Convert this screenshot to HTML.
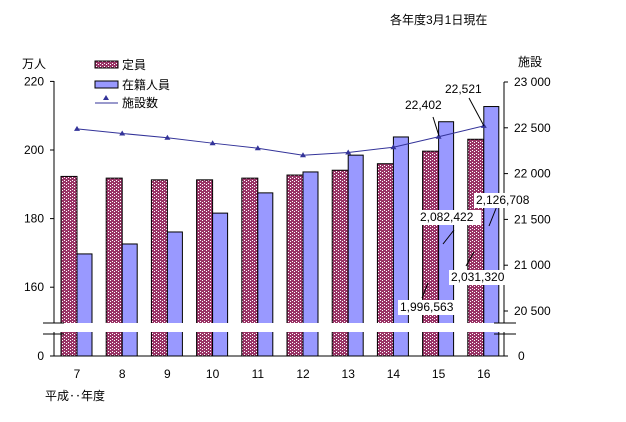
<!DOCTYPE html>
<html><head><meta charset="utf-8"><style>
body{margin:0;background:#fff}
svg text{font-family:"Liberation Sans","Noto Sans CJK JP",sans-serif;font-size:12px;fill:#000}
</style></head><body>
<svg id="c" width="626" height="417" xmlns="http://www.w3.org/2000/svg">
<defs><pattern id="dots" width="4" height="3" patternUnits="userSpaceOnUse"><rect width="4" height="3" fill="#993366"/><rect x="0" y="0" width="1" height="1" fill="#fff"/><rect x="2" y="1" width="1" height="1" fill="#fff"/></pattern></defs>
<text x="390" y="24">各年度3月1日現在</text>
<text x="22" y="68">万人</text>
<text x="518" y="66">施設</text>
<text x="45" y="400">平成‥年度</text>
<g>
<rect x="95" y="61" width="23" height="7" fill="url(#dots)" stroke="#000"/><text x="122" y="69">定員</text>
<rect x="95" y="81" width="23" height="7" fill="#9999ff" stroke="#000"/><text x="122" y="89">在籍人員</text>
<line x1="95" y1="103" x2="118" y2="103" stroke="#333399"/><path d="M103,100 l3,-5 l3,5z" fill="#333399"/><text x="122" y="107">施設数</text>
</g>
<g id="g"></g>
</svg>
<script>
const years=['7','8','9','10','11','12','13','14','15','16'];
const capacity=[192.3,191.8,191.3,191.3,191.8,192.7,194.1,196.0,199.66,203.13];
const enrolled=[169.7,172.6,176.1,181.6,187.5,193.6,198.5,203.8,208.24,212.67];
const facilities=[22488,22438,22391,22332,22277,22200,22231,22288,22402,22521];
const leftTicks=[160,180,200,220];
const rightTicks=[20500,21000,21500,22000,22500,23000];
const NS='http://www.w3.org/2000/svg';
const g=document.getElementById('g');
function mk(t,a,p){const e=document.createElementNS(NS,t);for(const k in a)e.setAttribute(k,a[k]);(p||g).appendChild(e);return e;}
const yL=v=>150-(v-200)*3.43;
const yR=v=>82+(23000-v)*0.0916;
const xC=i=>76+i*45.2;
const base=356;
years.forEach((y,i)=>{
 let b=mk('rect',{x:xC(i)-15,y:yL(capacity[i]),width:16,height:base-yL(capacity[i]),fill:'url(#dots)',stroke:'#000','stroke-width':1});
 
 
 let c=mk('rect',{x:xC(i)+1,y:yL(enrolled[i]),width:15,height:base-yL(enrolled[i]),fill:'#9999ff',stroke:'#000','stroke-width':1});
 
 
 let t=mk('text',{x:xC(i)+1,y:378,'text-anchor':'middle'});t.textContent=y;
 
 
});
mk('rect',{x:40,y:323,width:480,height:9,fill:'#fff'});
mk('line',{x1:54,y1:81,x2:54,y2:323,stroke:'#000'});
mk('line',{x1:54,y1:332,x2:54,y2:356,stroke:'#000'});
mk('line',{x1:504,y1:82,x2:504,y2:323,stroke:'#000'});
mk('line',{x1:504,y1:332,x2:504,y2:356,stroke:'#000'});
mk('line',{x1:54,y1:356,x2:504,y2:356,stroke:'#000'});
[[43,64,323],[43,64,334],[494,516,323],[494,516,334]].forEach(a=>mk('line',{x1:a[0],x2:a[1],y1:a[2],y2:a[2],stroke:'#000'}));
leftTicks.forEach(v=>{mk('line',{x1:50,x2:54,y1:yL(v),y2:yL(v),stroke:'#000'});let t=mk('text',{x:44,y:yL(v)+4,'text-anchor':'end'});t.textContent=v;
 
 });
mk('line',{x1:50,x2:54,y1:356,y2:356,stroke:'#000'});
let z=mk('text',{x:44,y:360,'text-anchor':'end'});z.textContent='0';
rightTicks.forEach(v=>{mk('line',{x1:504,x2:508,y1:yR(v),y2:yR(v),stroke:'#000'});let t=mk('text',{x:514,y:yR(v)+4});t.textContent=String(v).replace(/(\d{2})(\d{3})$/,'$1 $2');
 
 });
mk('line',{x1:504,x2:508,y1:356,y2:356,stroke:'#000'});
let z2=mk('text',{x:518,y:360});z2.textContent='0';
let pts=facilities.map((v,i)=>(xC(i)+1)+','+yR(v)).join(' ');
let pl=mk('polyline',{points:pts,fill:'none',stroke:'#333399','stroke-width':1});


facilities.forEach((v,i)=>{let x=xC(i)+1,y=yR(v);let m=mk('path',{d:`M${x-3},${y+2} L${x},${y-3} L${x+3},${y+2}Z`,fill:'#333399'});
 
 });
function lab(txt,x,y,lx1,ly1,lx2,ly2,name){mk('line',{x1:lx1,y1:ly1,x2:lx2,y2:ly2,stroke:'#000'});const w=txt.length*6.6+4;mk('rect',{x:x-2,y:y-11,width:w,height:15,fill:'#fff'});let t=mk('text',{x:x,y:y});t.textContent=txt;
 
 }
lab('22,402',405,109,433,117,439,136,'label-facilities-15');
lab('22,521',445,93,469,98,484,126,'label-facilities-16');
lab('1,996,563',400,311,422,298,428,283,'label-capacity-15');
lab('2,082,422',420,221,443,244,454,230,'label-enrolled-15');
lab('2,031,320',451,281,466,266,474,252,'label-capacity-16');
lab('2,126,708',476,204,489,226,497,206,'label-enrolled-16');
</script>
</body></html>
